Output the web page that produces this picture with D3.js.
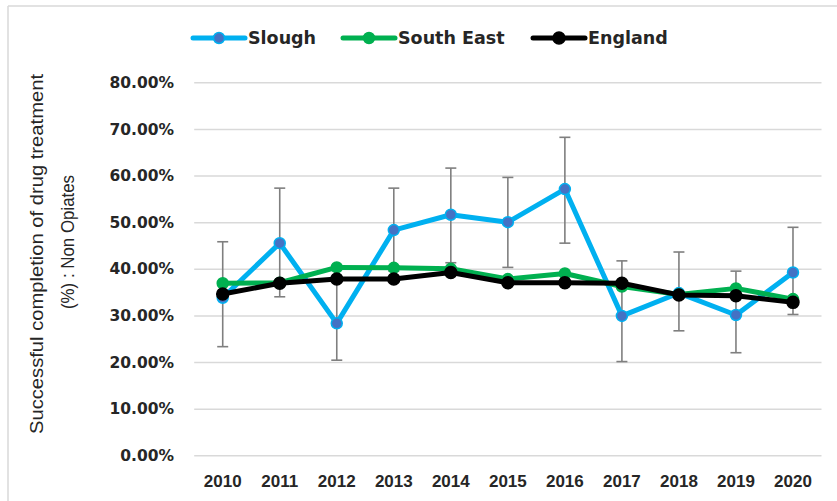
<!DOCTYPE html>
<html>
<head>
<meta charset="utf-8">
<script src="https://cdn.jsdelivr.net/npm/d3@7"></script>
<style>
  html, body { margin: 0; padding: 0; background: #fff; }
  svg { display: block; }
</style>
</head>
<body>
<div id="chart"></div>
<script>
// Years on the x axis
const years = ["2010","2011","2012","2013","2014","2015","2016","2017","2018","2019","2020"];

// Successful completion rates (%), non-opiate clients
const slough    = [33.8, 45.5, 28.3, 48.3, 51.6, 50.0, 57.1, 29.9, 34.8, 30.1, 39.2];
const sloughLow = [23.3, 34.0, 20.4, 39.5, 41.3, 40.3, 45.5, 20.1, 26.7, 22.0, 30.2];
const sloughHigh= [45.8, 57.3, 38.2, 57.3, 61.6, 59.6, 68.2, 41.7, 43.6, 39.5, 48.9];
const southEast = [36.9, 37.0, 40.3, 40.2, 40.0, 37.8, 39.0, 36.2, 34.5, 35.8, 33.5];
const england   = [34.6, 36.9, 37.8, 37.8, 39.2, 37.0, 37.0, 36.9, 34.4, 34.2, 32.8];

// Y axis ticks
const yTicks = [0, 10, 20, 30, 40, 50, 60, 70, 80];

const W = 837, H = 501;
const svg = d3.select("#chart").append("svg")
  .attr("width", W).attr("height", H);

// Outer frame (left and top edges)
svg.append("line").attr("x1", 8).attr("x2", 8).attr("y1", 6).attr("y2", H)
  .attr("stroke", "#d9d9d9").attr("stroke-width", 1.5);
svg.append("line").attr("x1", 8).attr("x2", W).attr("y1", 6).attr("y2", 6)
  .attr("stroke", "#d9d9d9").attr("stroke-width", 1.5);

const x = d3.scaleBand().domain(years).range([194.2, 821.5]);
const y = d3.scaleLinear().domain([0, 80]).range([455.3, 82.3]);
const cx = d => x(d) + x.bandwidth() / 2;

// Gridlines
const grid = d3.axisLeft(y).tickValues(yTicks).tickSize(-(821.5 - 194.2)).tickFormat("");
svg.append("g").attr("transform", "translate(194.2,0)").call(grid)
  .call(g => g.select(".domain").remove())
  .call(g => g.selectAll(".tick line").attr("stroke", "#d9d9d9").attr("stroke-width", 1.5));

// Y tick labels
svg.append("g").selectAll("text").data(yTicks).join("text")
  .attr("x", 174).attr("y", d => y(d)).attr("dy", "0.36em")
  .attr("text-anchor", "end")
  .attr("font-family", "DejaVu Sans").attr("font-weight", "bold")
  .attr("font-size", 15.5).attr("fill", "#262626")
  .text(d => d.toFixed(2) + "%");

// X tick labels
svg.append("g").selectAll("text").data(years).join("text")
  .attr("x", d => cx(d)).attr("y", 486.5)
  .attr("text-anchor", "middle")
  .attr("font-family", "Liberation Sans").attr("font-weight", "bold")
  .attr("font-size", 17).attr("fill", "#262626")
  .text(d => d);

// Y axis title (two lines, rotated)
const titleLines = [
  {t: "Successful completion of drug treatment", x: 43, cy: 254, len: 360},
  {t: "(%) : Non Opiates", x: 74, cy: 242, len: 134}
];
svg.append("g").selectAll("text").data(titleLines).join("text")
  .attr("transform", d => `translate(${d.x},${d.cy}) rotate(-90)`)
  .attr("text-anchor", "middle")
  .attr("font-family", "Liberation Sans").attr("font-size", 19)
  .attr("fill", "#262626")
  .attr("textLength", d => d.len).attr("lengthAdjust", "spacingAndGlyphs")
  .text(d => d.t);

// Error bars for Slough
const eb = svg.append("g").attr("stroke", "#7f7f7f").attr("stroke-width", 1.6);
years.forEach((yr, i) => {
  const xc = cx(yr);
  eb.append("line").attr("x1", xc).attr("x2", xc)
    .attr("y1", y(sloughLow[i])).attr("y2", y(sloughHigh[i]));
  [sloughLow[i], sloughHigh[i]].forEach(v => {
    eb.append("line").attr("x1", xc - 5.5).attr("x2", xc + 5.5)
      .attr("y1", y(v)).attr("y2", y(v));
  });
});

const line = d3.line().x((d, i) => cx(years[i])).y(d => y(d));

const series = [
  {name: "Slough", values: slough, stroke: "#00b0f0", width: 5, fill: "#4472c4", r: 5.5, ring: "#00b0f0"},
  {name: "South East", values: southEast, stroke: "#00b050", width: 5, fill: "#00b050", r: 5.5, ring: "#00b050"},
  {name: "England", values: england, stroke: "#000000", width: 5, fill: "#000000", r: 6, ring: "#000000"}
];

series.forEach(s => {
  const g = svg.append("g");
  g.append("path").datum(s.values).attr("d", line)
    .attr("fill", "none").attr("stroke", s.stroke)
    .attr("stroke-width", s.width).attr("stroke-linejoin", "round");
  g.selectAll("circle").data(s.values).join("circle")
    .attr("cx", (d, i) => cx(years[i])).attr("cy", d => y(d))
    .attr("r", s.r).attr("fill", s.fill)
    .attr("stroke", s.ring).attr("stroke-width", 1.5);
});

// Legend
const legendItems = [
  {s: series[0], x1: 193, tx: 248},
  {s: series[1], x1: 343, tx: 398},
  {s: series[2], x1: 533, tx: 588}
];
const lg = svg.append("g");
legendItems.forEach(d => {
  const ly = 38;
  lg.append("line").attr("x1", d.x1).attr("x2", d.x1 + 52).attr("y1", ly).attr("y2", ly)
    .attr("stroke", d.s.stroke).attr("stroke-width", d.s.width).attr("stroke-linecap", "round");
  lg.append("circle").attr("cx", d.x1 + 26).attr("cy", ly).attr("r", d.s.r)
    .attr("fill", d.s.fill).attr("stroke", d.s.ring).attr("stroke-width", 1.5);
  lg.append("text").attr("x", d.tx).attr("y", ly).attr("dy", "0.36em")
    .attr("font-family", "DejaVu Sans").attr("font-weight", "bold")
    .attr("font-size", 17.5).attr("fill", "#262626")
    .text(d.s.name);
});
</script>
</body>
</html>
